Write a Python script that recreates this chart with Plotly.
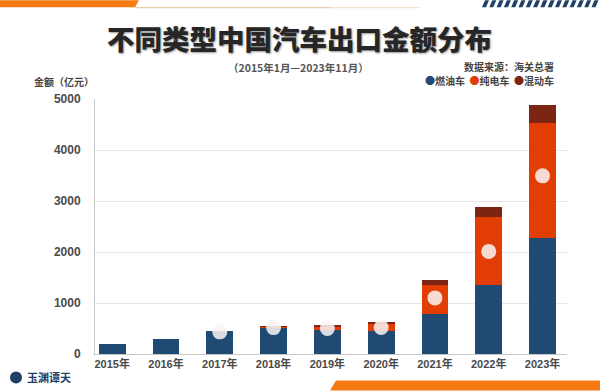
import plotly.graph_objects as go

years = ["2015年", "2016年", "2017年", "2018年", "2019年", "2020年", "2021年", "2022年", "2023年"]
fuel = [205, 297, 454, 522, 480, 450, 792, 1346, 2274]
ev = [0, 0, 0, 8, 60, 130, 568, 1339, 2262]
hybrid = [0, 0, 0, 4, 24, 50, 98, 207, 341]
dot_years = ["2017年", "2018年", "2019年", "2020年", "2021年", "2022年", "2023年"]
dot_vals = [434, 518, 500, 520, 1100, 2012, 3493]
yticks = [0, 1000, 2000, 3000, 4000, 5000]

C_FUEL = "#1f4a74"
C_EV = "#e23d02"
C_HY = "#7b2512"

W, H = 600, 391
L, R, T, B = 95, 567, 99, 354.5


def px(x):
    return (x - L) / (R - L)


def py(y):
    return (B - y) / (B - T)


fig = go.Figure()
fig.add_bar(x=years, y=fuel, name="燃油车", marker=dict(color=C_FUEL, line=dict(width=0)), width=0.5)
fig.add_bar(x=years, y=ev, name="纯电车", marker=dict(color=C_EV, line=dict(width=0)), width=0.5)
fig.add_bar(x=years, y=hybrid, name="混动车", marker=dict(color=C_HY, line=dict(width=0)), width=0.5)
fig.add_scatter(x=dot_years, y=dot_vals, mode="markers", showlegend=False,
                marker=dict(size=15, color="rgba(250,245,245,0.86)", line=dict(width=0)),
                hoverinfo="skip")

xtickfont = dict(family="Liberation Sans, Noto Sans CJK SC", size=11, color="#4a4a4a", weight="bold")
ytickfont = dict(family="Liberation Sans, Noto Sans CJK SC", size=12, color="#4a4a4a", weight="bold")

fig.update_layout(
    width=W, height=H,
    barmode="stack",
    showlegend=False,
    paper_bgcolor="white",
    plot_bgcolor="white",
    margin=dict(l=L, r=W - R, t=T, b=H - B, pad=0),
    xaxis=dict(range=[-0.32, 8.455], showgrid=False, showline=True, linecolor="#c8c8c8",
               linewidth=1, ticks="", tickfont=xtickfont, fixedrange=True),
    yaxis=dict(range=[0, 5000], tickvals=yticks, showgrid=True, gridcolor="#e6e6e6",
               gridwidth=1, showline=True, linecolor="#c8c8c8", linewidth=1,
               zeroline=False, ticks="", ticklabelstandoff=11, tickfont=ytickfont),
    font=dict(family="Noto Sans CJK SC"),
)

ann = []
ann.append(dict(text="不同类型中国汽车出口金额分布", x=px(299), y=py(38), xref="paper", yref="paper",
                showarrow=False, xanchor="center", yanchor="middle",
                font=dict(family="Noto Sans CJK SC", size=27.5, color="#262626", weight=900,
                          shadow="1px 1px 2px #9a9a9a")))
ann.append(dict(text="（2015年1月—2023年11月）", x=px(298), y=py(67), xref="paper", yref="paper",
                showarrow=False, xanchor="center", yanchor="middle",
                font=dict(family="Noto Sans CJK SC", size=10.5, color="#555555", weight="bold")))
ann.append(dict(text="数据来源：海关总署", x=px(556), y=py(66), xref="paper", yref="paper",
                showarrow=False, xanchor="right", yanchor="middle",
                font=dict(family="Noto Sans CJK SC", size=10, color="#444444", weight="bold")))
legend_txt = (f"<span style='color:{C_FUEL}'>●</span>燃油车  "
              f"<span style='color:{C_EV}'>●</span>纯电车  "
              f"<span style='color:{C_HY}'>●</span>混动车")
ann.append(dict(text=legend_txt, x=px(556), y=py(80.5), xref="paper", yref="paper",
                showarrow=False, xanchor="right", yanchor="middle",
                font=dict(family="Noto Sans CJK SC", size=10, color="#444444", weight="bold")))
ann.append(dict(text="金额（亿元）", x=px(32), y=py(81), xref="paper", yref="paper",
                showarrow=False, xanchor="left", yanchor="middle",
                font=dict(family="Noto Sans CJK SC", size=10, color="#444444", weight="bold")))
ann.append(dict(text="玉渊谭天", x=px(25), y=py(378), xref="paper", yref="paper",
                showarrow=False, xanchor="left", yanchor="middle",
                font=dict(family="Noto Sans CJK SC", size=11, color="#1f3f66", weight="bold")))
fig.update_layout(annotations=ann)

shapes = []


def path(pts):
    d = "M " + " L ".join(f"{px(x):.5f},{py(y):.5f}" for x, y in pts) + " Z"
    return d


# top-left orange band
shapes.append(dict(type="path", xref="paper", yref="paper", path=path([(0, 0), (139, 0), (135, 7), (0, 7)]),
                   fillcolor="#f57a12", line=dict(width=0), layer="above"))
# thin line
shapes.append(dict(type="line", xref="paper", yref="paper", x0=px(135), x1=px(330), y0=py(7.5), y1=py(7.5),
                   line=dict(color="#e9cfa8", width=1.2)))
shapes.append(dict(type="line", xref="paper", yref="paper", x0=px(330), x1=px(420), y0=py(7.5), y1=py(7.5),
                   line=dict(color="#f2e4d0", width=1.2)))
# top-right stripes
for i in range(16):
    x0 = 482 + i * 7.3
    shapes.append(dict(type="path", xref="paper", yref="paper",
                       path=path([(x0 + 3, 0), (x0 + 7, 0), (x0 + 4, 7), (x0, 7)]),
                       fillcolor="#1f3f66", line=dict(width=0)))
# bottom-right orange band
shapes.append(dict(type="path", xref="paper", yref="paper",
                   path=path([(336, 381), (600, 381), (600, 391), (330, 391)]),
                   fillcolor="#f57a12", line=dict(width=0)))
# logo icon
shapes.append(dict(type="circle", xref="paper", yref="paper", x0=px(10), x1=px(22), y0=py(384), y1=py(372),
                   fillcolor="#1f3f66", line=dict(width=0)))
fig.update_layout(shapes=shapes)

fig.write_html("out.html", config={"displayModeBar": False},
               post_script="document.body.style.margin='0';document.body.style.padding='0';"
                           "document.body.style.overflow='hidden';")
